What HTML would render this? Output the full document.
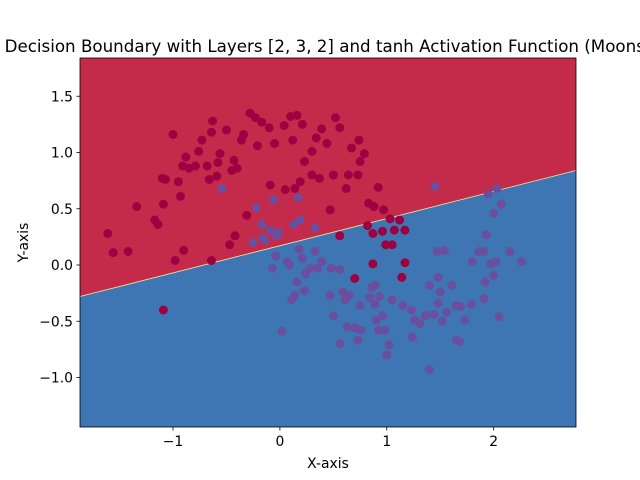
<!DOCTYPE html>
<html><head><meta charset="utf-8"><style>
html,body{margin:0;padding:0;background:#fff;width:640px;height:480px;overflow:hidden}
svg text{font-family:"DejaVu Sans","Liberation Sans",sans-serif;fill:#000}
</style></head><body>
<svg id="chart" width="640" height="480" viewBox="0 0 640 480" xmlns="http://www.w3.org/2000/svg"></svg>
<script>
const xDomain=[-1.87,2.77];
const yDomain=[-1.44,1.84];
const xTicks=[-1,0,1,2];
const xTickLabels=["−1","0","1","2"];
const yTicks=[-1.0,-0.5,0.0,0.5,1.0,1.5];
const yTickLabels=["−1.0","−0.5","0.0","0.5","1.0","1.5"];
const boundaryX=[-1.87,2.77];
const boundaryY=[-0.28,0.84];
const class0X=[-1.61,-1.56,-1.42,-1.34,-1.17,-1.10,-1.09,-1.07,-1.00,-0.98,-0.95,-0.93,-0.91,-0.88,-0.85,-0.79,-0.76,-0.73,-0.68,-0.66,-0.64,-0.63,-0.59,-0.58,-0.56,-0.50,-0.45,-0.43,-0.40,-0.36,-0.34,-0.28,-0.23,-0.21,-0.17,-0.10,-0.05,0.04,0.10,0.12,0.16,0.21,0.23,0.30,0.34,0.39,0.44,0.52,0.56,0.62,0.64,0.67,0.74,0.79,0.75,0.73,0.83,0.88,0.92,0.97,1.03,1.07,1.12,1.17,0.99,1.05,0.96,0.87,0.82,0.70,0.87,1.14,1.17,0.56,-1.09,-1.14,-0.90,-0.64,-0.47,-0.42,-0.31,-0.09,0.05,0.14,0.19,0.30,0.37,0.47,0.50];
const class0Y=[0.28,0.11,0.12,0.52,0.40,0.77,0.54,0.76,1.16,0.04,0.74,0.61,0.88,0.96,0.86,0.88,1.01,1.11,0.88,0.76,1.18,1.28,0.79,0.91,0.99,1.20,0.84,0.93,0.86,1.11,1.16,1.35,1.31,1.06,1.27,1.22,1.08,1.24,1.32,1.11,1.33,1.25,0.92,1.01,1.13,1.21,1.08,1.31,1.22,0.68,0.80,1.04,1.11,0.99,0.92,0.80,0.55,0.52,0.69,0.49,0.41,0.31,0.40,0.31,0.18,0.18,0.30,0.28,0.35,-0.12,0.01,-0.11,0.02,0.26,-0.40,0.36,0.13,0.04,0.18,0.26,0.44,0.71,0.67,0.68,0.74,0.80,0.77,0.49,0.80];
const class1X=[-0.54,-0.22,-0.25,-0.16,-0.09,-0.01,-0.03,-0.06,0.19,0.07,-0.04,-0.14,-0.07,0.09,0.16,0.21,0.14,0.23,0.11,0.28,0.35,0.33,0.48,0.56,0.61,0.75,0.50,0.65,0.70,0.76,0.86,0.89,0.90,0.96,0.98,1.00,1.02,0.92,0.56,0.63,0.73,0.84,0.93,1.05,1.15,1.23,1.31,1.24,1.26,1.36,1.40,1.44,1.48,1.50,1.52,1.56,1.61,1.65,1.69,1.65,1.73,1.79,1.86,1.91,1.93,1.97,2.00,1.92,2.00,2.07,1.95,2.03,1.80,1.91,2.05,2.02,2.15,2.26,1.40,1.68,1.54,1.47,1.45,0.17,0.13,0.24,0.02,0.33,0.18,0.39,1.48,-0.17,0.47,0.59,0.89];
const class1Y=[0.68,0.51,0.20,0.24,0.31,0.29,0.26,0.58,0.40,0.03,0.08,0.22,-0.03,0.00,-0.15,0.06,-0.27,-0.23,-0.31,-0.03,-0.03,0.12,-0.03,-0.04,-0.31,-0.36,-0.45,-0.27,-0.56,-0.58,-0.20,-0.35,-0.49,-0.45,-0.58,-0.80,-0.71,-0.58,-0.70,-0.55,-0.67,-0.29,-0.28,-0.31,-0.36,-0.40,-0.52,-0.64,-0.49,-0.45,-0.18,-0.44,-0.34,-0.24,-0.50,-0.42,-0.18,-0.36,-0.37,-0.67,-0.49,-0.35,0.12,0.12,0.27,0.01,-0.09,-0.15,0.46,0.54,0.63,0.68,0.03,-0.30,-0.46,0.03,0.12,0.03,-0.93,-0.68,0.13,0.12,0.70,0.60,0.36,-0.08,-0.59,0.33,0.14,0.03,-0.11,0.36,-0.27,-0.24,-0.18];

const L=80,R=576,T=58,B=427;
const sx=v=>L+(v-xDomain[0])/(xDomain[1]-xDomain[0])*(R-L);
const sy=v=>B-(v-yDomain[0])/(yDomain[1]-yDomain[0])*(B-T);
const svg=document.getElementById('chart');
const NS='http://www.w3.org/2000/svg';
function mk(tag,attrs,parent){const e=document.createElementNS(NS,tag);for(const k in attrs)e.setAttribute(k,attrs[k]);(parent||svg).appendChild(e);return e;}

const redBg=mk('rect',{x:L,y:T,width:R-L,height:B-T,fill:'#c42b4a'});


const bx0=sx(boundaryX[0]),by0=sy(boundaryY[0]),bx1=sx(boundaryX[1]),by1=sy(boundaryY[1]);
const blueBg=mk('polygon',{points:`${bx0},${by0} ${bx1},${by1} ${R},${B} ${L},${B}`,fill:'#3e76b3'});


const bl=mk('line',{x1:bx0,y1:by0,x2:bx1,y2:by1,stroke:'#f3e9a0','stroke-width':0.8});



const g0=mk('g',{});


class0X.forEach((x,i)=>{const c=mk('circle',{cx:sx(x),cy:sy(class0Y[i]),r:4.5,fill:'#9e0142'},g0);

});
const g1=mk('g',{});


class1X.forEach((x,i)=>{const c=mk('circle',{cx:sx(x),cy:sy(class1Y[i]),r:4.5,fill:'#6a4f9e'},g1);

});

const fr=mk('rect',{x:L,y:T,width:R-L,height:B-T,fill:'none',stroke:'#000','stroke-width':0.8});



xTicks.forEach((v,i)=>{const x=sx(v);
const t=mk('line',{x1:x,y1:B,x2:x,y2:B+3.5,stroke:'#000','stroke-width':0.8});


const tx=mk('text',{x:x,y:B+19,'font-size':13.9,'text-anchor':'middle'});tx.textContent=xTickLabels[i];

});
yTicks.forEach((v,i)=>{const y=sy(v);
const t=mk('line',{x1:L-3.5,y1:y,x2:L,y2:y,stroke:'#000','stroke-width':0.8});


const tx=mk('text',{x:L-7,y:y+5,'font-size':13.9,'text-anchor':'end'});tx.textContent=yTickLabels[i];

});

const xl=mk('text',{x:(L+R)/2,y:468,'font-size':13.9,'text-anchor':'middle'});xl.textContent='X-axis';


const yl=mk('text',{x:0,y:0,'font-size':13.9,'text-anchor':'middle',transform:`translate(28,${(T+B)/2}) rotate(-90)`});yl.textContent='Y-axis';


const tt=mk('text',{x:(L+R)/2,y:52,'font-size':16.7,'text-anchor':'middle'});tt.textContent='Decision Boundary with Layers [2, 3, 2] and tanh Activation Function (Moons)';


</script>
</body></html>
